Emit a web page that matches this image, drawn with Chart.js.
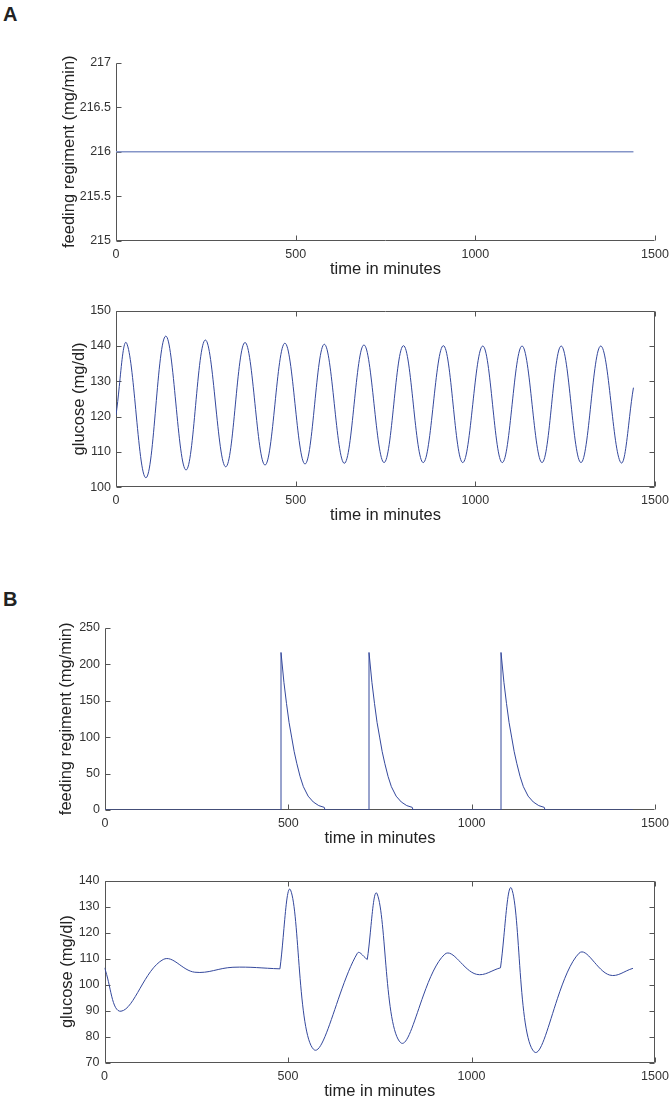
<!DOCTYPE html>
<html>
<head>
<meta charset="utf-8">
<script src="https://cdn.jsdelivr.net/npm/chart.js@4.4.0/dist/chart.umd.min.js"></script>
<style>
  body { margin: 0; background: #fff; }
  #page { position: relative; width: 672px; height: 1100px; overflow: hidden; }
  canvas { position: absolute; left: 0; }
  .tag { position: absolute; left: 3px; font: bold 20px "Liberation Sans", Arial, sans-serif; color: #222; }
</style>
</head>
<body>
<div id="page">
  <div class="tag" style="top:3px">A</div>
  <div class="tag" style="top:588px">B</div>
  <canvas id="a1"></canvas>
  <canvas id="a2"></canvas>
  <canvas id="b1"></canvas>
  <canvas id="b2"></canvas>
</div>
<script>
// x axis (minutes)
const timeTicks = [0, 500, 1000, 1500];

// A: constant feeding
const feedATime = [0, 1440];
const feedARate = [216, 216];
const feedATicks = [215, 215.5, 216, 216.5, 217];

// A: glucose oscillation (start, then peaks and troughs)
const glucATime = [0, 29.7, 83.5, 138.3, 194.8, 248.6, 305.3, 359, 414.7, 470, 526, 579.7, 635.4, 690, 746,
  800, 855, 911, 965, 1020.7, 1075, 1130, 1185.6, 1239, 1294, 1349, 1404.7, 1440];
const glucAValue = [120.5, 140.8, 102.7, 142.8, 104.9, 141.7, 105.8, 141.0, 106.3, 140.8, 106.6, 140.5, 106.8, 140.3, 107.0,
  140.1, 107.0, 140.1, 107.0, 140.0, 107.0, 140.0, 107.0, 140.0, 107.0, 140.0, 107.0, 128.2];
const glucATicks = [100, 110, 120, 130, 140, 150];

// B: meal pulses
const feedBTime = [0, 480, 480, 488, 495, 502, 509, 516, 523, 532, 541, 554, 568, 583, 598, 600,
  720, 720, 728, 735, 742, 749, 756, 763, 772, 781, 794, 808, 823, 838, 840,
  1080, 1080, 1088, 1095, 1102, 1109, 1116, 1123, 1132, 1141, 1154, 1168, 1183, 1198, 1200, 1440];
const feedBRate = [0, 0, 216, 175, 146, 120, 100, 80, 64, 46, 32, 19, 11, 6, 3.6, 0,
  0, 216, 175, 146, 120, 100, 80, 64, 46, 32, 19, 11, 6, 3.6, 0,
  0, 216, 175, 146, 120, 100, 80, 64, 46, 32, 19, 11, 6, 3.6, 0, 0];
const feedBTicks = [0, 50, 100, 150, 200, 250];

// B: glucose response (turning points; corners where meals start)
const glucBTime = [0, 45, 160, 246, 350, 478, 507, 570, 689, 716, 743, 807, 927, 1013.5, 1079,
  1109, 1170.6, 1293, 1376.6, 1440];
const glucBValue = [106.5, 89.8, 109.7, 104.8, 106.7, 106.1, 136.4, 75.1, 112.1, 109.7, 134.9, 77.7, 111.7, 104, 106.5,
  137.1, 74.2, 112.1, 103.7, 106.3];
const glucBCorners = [478, 716, 1079];
const glucBTicks = [70, 80, 90, 100, 110, 120, 130, 140];

const FONT = '"Liberation Sans", Arial, Helvetica, sans-serif';
const AXIS = '#555';
const TICK_SIZE = 12.5;
const TITLE_SIZE = 16.5;

const framePlugin = {
  id: 'frame',
  beforeDatasetsDraw(chart, args, opts) {
    const { ctx, chartArea: a, scales: { x, y } } = chart;
    const L = 5;
    const l = Math.round(a.left) + 0.5, r = Math.round(a.right) - 0.5;
    const t = Math.round(a.top) + 0.5, b = Math.round(a.bottom) - 0.5;
    ctx.save();
    ctx.strokeStyle = AXIS;
    ctx.lineWidth = 1;
    ctx.beginPath();
    ctx.moveTo(l, t); ctx.lineTo(l, b); ctx.lineTo(r, b);
    if (opts.box) { ctx.lineTo(r, t); ctx.lineTo(l, t); }
    x.ticks.forEach(tk => {
      const px = Math.round(x.getPixelForValue(tk.value)) + 0.5;
      ctx.moveTo(px, b); ctx.lineTo(px, b - L);
      if (opts.box) { ctx.moveTo(px, t); ctx.lineTo(px, t + L); }
    });
    y.ticks.forEach(tk => {
      const py = Math.round(y.getPixelForValue(tk.value)) + 0.5;
      ctx.moveTo(l, py); ctx.lineTo(l + L, py);
      if (opts.box) { ctx.moveTo(r, py); ctx.lineTo(r - L, py); }
    });
    ctx.stroke();
    ctx.restore();
  }
};

// split a series into pieces at corner x values (pieces share the corner point)
function pieces(xs, ys, corners) {
  const out = [];
  let cur = [];
  xs.forEach((v, i) => {
    cur.push({ x: v, y: ys[i] });
    if (corners.includes(v)) { out.push(cur); cur = [{ x: v, y: ys[i] }]; }
  });
  out.push(cur);
  return out;
}

function makePanel(id, p) {
  const canvasTop = Math.round(p.top) - 20;
  const canvasBottom = Math.round(p.bottom) + 42;
  const cv = document.getElementById(id);
  cv.width = 672;
  cv.height = canvasBottom - canvasTop;
  cv.style.top = canvasTop + 'px';
  const parts = pieces(p.xs, p.ys, p.corners || []);
  const lineHalf = TITLE_SIZE * 1.2 / 2;
  new Chart(cv, {
    type: 'line',
    data: {
      datasets: parts.map(pts => ({
        data: pts,
        borderColor: p.color,
        borderWidth: p.width,
        pointRadius: 0,
        fill: false,
        tension: p.tension
      }))
    },
    options: {
      responsive: false,
      animation: false,
      events: [],
      layout: { padding: { left: 0, right: 672 - p.right, top: p.top - canvasTop, bottom: 0 } },
      plugins: { legend: { display: false }, tooltip: { enabled: false }, frame: { box: p.box } },
      scales: {
        x: {
          type: 'linear', min: 0, max: 1500,
          afterBuildTicks: s => { s.ticks = timeTicks.map(v => ({ value: v })); },
          afterFit: s => { s.height = canvasBottom - p.bottom; s.paddingLeft = 0; s.paddingRight = 0; },
          grid: { display: false, drawTicks: false },
          border: { display: false },
          ticks: { padding: 6, maxRotation: 0, autoSkip: false, color: '#333',
            font: { family: FONT, size: TICK_SIZE }, callback: v => String(v) },
          title: { display: true, text: 'time in minutes', color: '#222',
            font: { family: FONT, size: TITLE_SIZE },
            padding: { top: 0, bottom: canvasBottom - p.bottom - 28.5 - lineHalf } }
        },
        y: {
          type: 'linear', min: p.yTicks[0], max: p.yTicks[p.yTicks.length - 1],
          afterBuildTicks: s => { s.ticks = p.yTicks.map(v => ({ value: v })); },
          afterFit: s => { s.width = p.left; s.paddingTop = 0; s.paddingBottom = 0; },
          grid: { display: false, drawTicks: false },
          border: { display: false },
          ticks: { padding: 5, autoSkip: false, color: '#333',
            font: { family: FONT, size: TICK_SIZE }, callback: v => String(v) },
          title: { display: true, text: p.yTitle, color: '#222',
            font: { family: FONT, size: TITLE_SIZE }, padding: { top: p.yTitleX - lineHalf, bottom: 0 } }
        }
      }
    },
    plugins: [framePlugin]
  });
}

makePanel('a1', { left: 116, right: 655, top: 62.7, bottom: 240.7, xs: feedATime, ys: feedARate,
  yTicks: feedATicks, yTitle: 'feeding regiment (mg/min)', yTitleX: 69, box: false,
  color: '#8595c8', width: 1.6, tension: 0 });
makePanel('a2', { left: 116, right: 655, top: 310.7, bottom: 487.3, xs: glucATime, ys: glucAValue,
  yTicks: glucATicks, yTitle: 'glucose (mg/dl)', yTitleX: 79, box: true,
  color: '#34489c', width: 1, tension: 0.38 });
makePanel('b1', { left: 105, right: 655, top: 627.7, bottom: 810, xs: feedBTime, ys: feedBRate,
  yTicks: feedBTicks, yTitle: 'feeding regiment (mg/min)', yTitleX: 66, box: false,
  color: '#34489c', width: 1, tension: 0 });
makePanel('b2', { left: 104.5, right: 655, top: 880.7, bottom: 1062.7, xs: glucBTime, ys: glucBValue,
  corners: glucBCorners, yTicks: glucBTicks, yTitle: 'glucose (mg/dl)', yTitleX: 67, box: true,
  color: '#34489c', width: 1, tension: 0.38 });
</script>
</body>
</html>
